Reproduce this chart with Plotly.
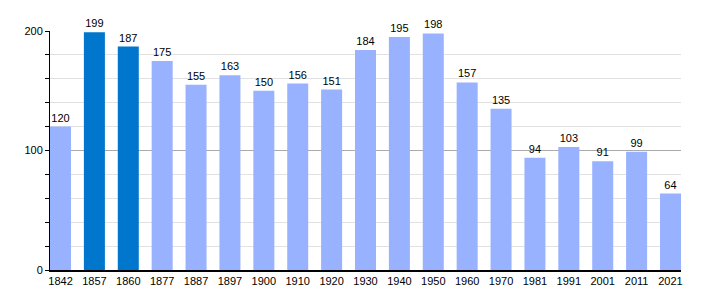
import plotly.graph_objects as go

years = ["1842", "1857", "1860", "1877", "1887", "1897", "1900", "1910", "1920", "1930",
         "1940", "1950", "1960", "1970", "1981", "1991", "2001", "2011", "2021"]
population = [120, 199, 187, 175, 155, 163, 150, 156, 151, 184,
              195, 198, 157, 135, 94, 103, 91, 99, 64]
highlight_years = ["1857", "1860"]

light = "#99b2ff"
dark = "#0077cc"
colors = [dark if y in highlight_years else light for y in years]

fig = go.Figure(go.Bar(
    x=years, y=population,
    marker=dict(color=colors, line=dict(width=0)),
    width=0.62,
    text=[str(v) for v in population],
    textposition="outside",
    textfont=dict(size=11, color="#000000", family="Liberation Sans"),
    cliponaxis=False,
))

fig.update_layout(
    width=710, height=300,
    margin=dict(l=50, r=29, t=31, b=30),
    paper_bgcolor="white", plot_bgcolor="white",
    font=dict(family="Liberation Sans", size=11, color="#000000"),
    showlegend=False,
    bargap=0.38,
)
fig.update_xaxes(
    type="category",
    range=[-0.31, 18.31],
    showline=True, linecolor="#000000", linewidth=1.5,
    ticks="", showgrid=False,
    tickfont=dict(size=11, color="#000000"),
)
fig.update_yaxes(
    range=[0, 200],
    dtick=100, tick0=0,
    showline=True, linecolor="#000000", linewidth=1,
    ticks="outside", ticklen=4, tickcolor="#000000",
    showgrid=True, gridcolor="#aaaaaa", gridwidth=1,
    zeroline=False,
    minor=dict(dtick=20, ticks="outside", ticklen=4, tickcolor="#000000",
               showgrid=True, gridcolor="#e2e2e2", gridwidth=1),
    tickfont=dict(size=11, color="#000000"),
)

fig.write_html("out.html")
